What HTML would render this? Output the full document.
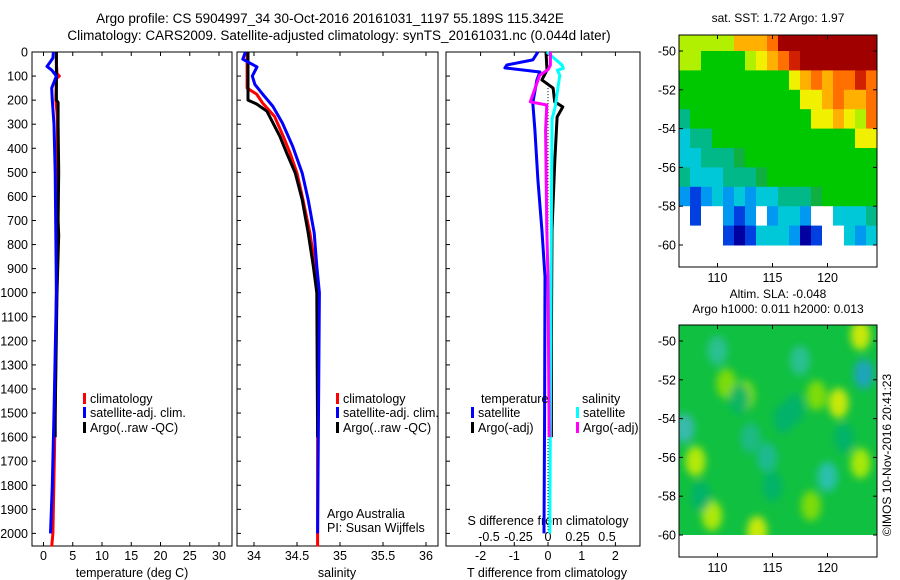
<!DOCTYPE html>
<html><head><meta charset="utf-8"><style>
html,body{margin:0;padding:0;background:#fff;}
svg{display:block;font-family:"Liberation Sans",sans-serif;}
</style></head><body>
<svg id="fig" width="900" height="580" viewBox="0 0 900 580" xmlns="http://www.w3.org/2000/svg">
<defs>
<filter id="blur4" x="-50%" y="-50%" width="200%" height="200%"><feGaussianBlur stdDeviation="4"/></filter>
<clipPath id="clipSLA"><rect x="679" y="325" width="198" height="210"/></clipPath>
</defs>
<text x="330" y="23" font-size="13.5" text-anchor="middle">Argo profile: CS 5904997_34 30-Oct-2016 20161031_1197 55.189S 115.342E</text>
<text x="339" y="40" font-size="13.5" text-anchor="middle">Climatology: CARS2009. Satellite-adjusted climatology: synTS_20161031.nc (0.044d later)</text>
<g id="g"></g>
<text transform="translate(891,455) rotate(-90)" font-size="12" text-anchor="middle">©IMOS 10-Nov-2016 20:41:23</text>
</svg>
<script>
// ---------- data ----------
const depthTicks = [0,100,200,300,400,500,600,700,800,900,1000,1100,1200,1300,1400,1500,1600,1700,1800,1900,2000];
const tempTicks = [0,5,10,15,20,25,30];
const salTicks = [34,34.5,35,35.5,36];
const tdiffTicks = [-2,-1,0,1,2];
const sdiffTicks = [-0.5,-0.25,0,0.25,0.5];

const climTempDepth = [0,50,90,100,110,200,250,300,500,1000,1500,2000,2055];
const climTemp      = [2.2,2.2,2.3,2.7,2.2,2.1,2.3,2.4,2.3,2.2,2.0,1.6,1.4];
const satTempDepth  = [0,25,40,60,75,100,150,200,300,500,1000,1500,1800,2000];
const satTemp       = [1.7,1.6,1.2,0.6,1.4,2.2,1.4,1.5,1.8,2.0,2.2,1.8,1.5,1.2];
const argoTempDepth = [0,100,200,210,300,500,700,760,1000,1500,1600];
const argoTemp      = [2.2,2.2,2.2,2.5,2.5,2.6,2.5,2.6,2.3,2.0,2.0];

const climSalDepth = [0,150,157,175,212,268,350,420,503,614,752,890,1000,1500,2055];
const climSal      = [33.92,33.92,33.95,34.03,34.10,34.24,34.34,34.42,34.50,34.57,34.65,34.71,34.74,34.74,34.74];
const satSalDepth  = [0,30,62,100,135,175,226,295,392,503,614,752,890,1000,1500,2000];
const satSal       = [33.9,33.87,34.035,33.98,34.01,34.10,34.22,34.33,34.45,34.56,34.63,34.70,34.73,34.76,34.75,34.74];
const argoSalDepth = [0,200,216,246,350,420,503,614,752,890,1000,1600];
const argoSal      = [33.93,33.93,34.03,34.15,34.30,34.38,34.48,34.56,34.63,34.69,34.73,34.74];

const tSatDiffDepth = [0,33,54,66,83,116,212,324,531,739,933,1500,2000];
const tSatDiff      = [-0.3,-0.45,-1.22,-1.28,-0.24,-0.33,-0.45,-0.39,-0.30,-0.18,-0.09,-0.1,-0.12];
const tArgoDiffDepth = [0,75,116,150,207,228,270,461,739,1200,1600];
const tArgoDiff      = [-0.06,-0.03,-0.18,0.15,0.2,0.44,0.27,0.2,0.12,0.1,0.1];
const sSatDiffDepth = [0,55,68,75,97,130,230,277,600,1000,1500,2000];
const sSatDiff      = [-0.01,0.12,0.13,0.08,0.10,0.09,0.06,0.035,0.03,0.025,0.02,0.015];
const sArgoDiffDepth = [0,55,73,97,207,220,324,739,933,1600];
const sArgoDiff      = [0.02,0.02,0.0,-0.07,-0.15,-0.01,-0.02,-0.01,0.0,0.01];

// ---------- scales ----------
const TOP=52, BOT=546;
function yD(d){ return TOP + d*0.2407; }
function xT(t){ return 43.5 + t*5.85; }
function xS(s){ return 254 + (s-34)*86; }
function xTD(t){ return 548 + t*33.7; }
function xSD(s){ return 548 + s*118; }

const g = document.getElementById('g');
const NS='http://www.w3.org/2000/svg';
function mk(tag, attrs, parent){
  const e=document.createElementNS(NS,tag);
  for(const k in attrs) e.setAttribute(k,attrs[k]);
  (parent||g).appendChild(e); return e;
}
function txt(x,y,s,anchor,size,parent){
  const e=mk('text',{x:x,y:y,'font-size':size||12.5,'text-anchor':anchor||'start'},parent);
  e.textContent=s; return e;
}

// panels
const panels=[[32,232,'temperature-panel'],[237,438,'salinity-panel'],[446,640,'difference-panel']];
panels.forEach(p=>{
  const r=mk('rect',{x:p[0],y:TOP,width:p[1]-p[0],height:BOT-TOP,fill:'none',stroke:'#000','stroke-width':1});
  
  
});
depthTicks.forEach(d=>{
  const y=yD(d);
  mk('line',{x1:32,x2:36,y1:y,y2:y,stroke:'#000'});
  mk('line',{x1:237,x2:241,y1:y,y2:y,stroke:'#000'});
  mk('line',{x1:446,x2:450,y1:y,y2:y,stroke:'#000'});
  const t=txt(28,y+4.5,String(d),'end',12.5);
  
  
});
function xticks(vals,fx,labels,yLab){
  vals.forEach((v,i)=>{
    const x=fx(v);
    mk('line',{x1:x,x2:x,y1:TOP,y2:TOP+4,stroke:'#000'});
    mk('line',{x1:x,x2:x,y1:BOT,y2:BOT-4,stroke:'#000'});
    const t=txt(x,yLab,labels[i],'middle',12.5);
    
    
  });
}
xticks(tempTicks,xT,tempTicks.map(String),560);
xticks(salTicks,xS,salTicks.map(String),560);
xticks(tdiffTicks,xTD,tdiffTicks.map(String),560);
sdiffTicks.forEach(v=>{
  const t=txt(xSD(v),541,String(v),'middle',12.5);
  
  
});
[['temperature (deg C)',132,'x-axis-title-temperature'],['salinity',337,'x-axis-title-salinity'],['T difference from climatology',547,'x-axis-title-tdiff']].forEach(a=>{
  const t=txt(a[1],577,a[0],'middle',12.5);
  
  
});
{const t=txt(548,525,'S difference from climatology','middle',12.5);

}

function line(depths,vals,fx,color,name,w,dash){
  const pts=depths.map((d,i)=>fx(vals[i]).toFixed(1)+','+yD(d).toFixed(1)).join(' ');
  const e=mk('polyline',{points:pts,fill:'none',stroke:color,'stroke-width':w||3,'stroke-linejoin':'round'});
  if(dash) e.setAttribute('stroke-dasharray',dash);
  
  
}
line(climTempDepth,climTemp,xT,'#f00','climatology-temperature-line');
line(argoTempDepth,argoTemp,xT,'#000','argo-temperature-line');
line(satTempDepth,satTemp,xT,'#00f','satellite-temperature-line');
line(climSalDepth,climSal,xS,'#f00','climatology-salinity-line');
line(argoSalDepth,argoSal,xS,'#000','argo-salinity-line');
line(satSalDepth,satSal,xS,'#00f','satellite-salinity-line');
{const e=mk('line',{x1:xTD(0),x2:xTD(0),y1:yD(150),y2:yD(2000),stroke:'#000','stroke-width':1,'stroke-dasharray':'1,2'});

}
line(tSatDiffDepth,tSatDiff,xTD,'#00f','t-satellite-diff-line');
line(tArgoDiffDepth,tArgoDiff,xTD,'#000','t-argo-diff-line');
line(sSatDiffDepth,sSatDiff,xSD,'#0ff','s-satellite-diff-line');
line(sArgoDiffDepth,sArgoDiff,xSD,'#f0f','s-argo-diff-line');

function legend(x,y,color,label,name){
  const r=mk('rect',{x:x,y:y-10,width:3,height:11,fill:color});
  
  
  const t=txt(x+7,y,label,'start',12.5);
  
  
}
legend(83,403,'#f00','climatology','legend-climatology-temp');
legend(83,417,'#00f','satellite-adj. clim.','legend-satellite-temp');
legend(83,432,'#000','Argo(..raw -QC)','legend-argo-temp');
legend(336,403,'#f00','climatology','legend-climatology-sal');
legend(336,417,'#00f','satellite-adj. clim.','legend-satellite-sal');
legend(336,432,'#000','Argo(..raw -QC)','legend-argo-sal');
{const t=txt(481,403,'temperature','start',12.5);}
{const t=txt(582,403,'salinity','start',12.5);}
legend(471,417,'#00f','satellite','legend-t-satellite');
legend(471,432,'#000','Argo(-adj)','legend-t-argo');
legend(576,417,'#0ff','satellite','legend-s-satellite');
legend(576,432,'#f0f','Argo(-adj)','legend-s-argo');
{const t=txt(327,518,'Argo Australia','start',12.5);}
{const t=txt(327,532,'PI: Susan Wijffels','start',12.5);}

// ---------- maps ----------
const lonTicks=[110,115,120];
const latTicks=[-50,-52,-54,-56,-58,-60];
const MX0=679, MX1=877;
function xLon(l){ return MX0 + (l-106.5)*11.0; }
function yLat(l,top){ return top+16 + (-50-l)*19.4; }
const pal={R:'#a00000',r:'#d02000',O:'#ff7000',o:'#ffb000',Y:'#f0f000',y:'#b0f000',G:'#00c800',g:'#10b040',T:'#00b888',C:'#00c8d8',c:'#0098f0',B:'#0040e0',D:'#0000a0',W:'#ffffff'};
const sstRows=[
 "yyyyyoooORRRRRRRRR",
 "yyGGGGyYoOrRRRRRRR",
 "GGGGGGGGGGYoOoOOrO",
 "GGGGGGGGGGGYYoOooO",
 "TGGGGGGGGGGGYYoYyO",
 "CTTGGGGGGGGGGGGGYY",
 "CCTTTgGGGGGGGGGGGG",
 "TCCCTTTgGGGGGGGGGG",
 "cBcCcCcCCTTTgGGGGG",
 "WBWWcBcWcCCcWWCCCT",
 "WWWWBDBCCCcDBWWCcC"];
function drawMap(top,name,title1,title2){
  if(title2){
    const t1=txt(778,top-27,title1,'middle',12);
    const t2=txt(778,top-12,title2,'middle',12);
  } else {
    const t1=txt(778,top-13,title1,'middle',12);
  }
}
const sTop=35;
drawMap(sTop,'sst-map','sat. SST: 1.72 Argo: 1.97');
sstRows.forEach((row,i)=>{
  const y0=i===0?sTop:yLat(-50-(i-1),sTop), y1=yLat(-50-i,sTop);
  for(let j=0;j<row.length;j++){
    const x0=MX0+j*11, w=(j===row.length-1)?MX1-x0:11;
    const r=mk('rect',{x:x0,y:y0,width:w+0.5,height:y1-y0+0.5,fill:pal[row[j]]});
    
    
  }
});
const aTop=325;
drawMap(aTop,'sla-map','Altim. SLA: -0.048','Argo h1000: 0.011 h2000: 0.013');
{const b=mk('rect',{x:MX0,y:aTop,width:MX1-MX0,height:yLat(-60,aTop)-aTop,fill:'#10c040'});
}
const slaLon=[121,123,113.6,109.5,108,123,110.8,112.5,119,123.3,117.5,114.5,120,107,112,116,118.5,110,115,108.5,121.5,117,113];
const slaLat=[-53.2,-49.7,-59.8,-59,-56.2,-56.3,-52.2,-52.8,-52.8,-51.7,-51,-56,-57,-54.5,-53,-54,-58.5,-50.5,-57.5,-58,-55,-53.5,-55];
const slaCol=['#e8f000','#e8f000','#e8f000','#c8f000','#d0f000','#c0f000','#90e000','#90e000','#90e000','#20a0d0','#30c0a0','#20b8a0','#30c0c0','#40b8c0','#00b070','#00b070','#90e000','#30c0a0','#00b070','#00b070','#00b070','#00b070','#20b890'];
const gs=mk('g',{'clip-path':'url(#clipSLA)',filter:'url(#blur4)'});

slaLon.forEach((l,i)=>{
  const e=mk('ellipse',{cx:xLon(l),cy:yLat(slaLat[i],aTop),rx:10,ry:15,fill:slaCol[i],'fill-opacity':0.85},gs);
  
  
});
[sTop,aTop].forEach((top,k)=>{
  const bot=top+232;
  const b=mk('rect',{x:MX0,y:top,width:MX1-MX0,height:bot-top,fill:'none',stroke:'#000'});
  
  
  latTicks.forEach(l=>{
    const y=yLat(l,top);
    mk('line',{x1:MX0,x2:MX0+4,y1:y,y2:y,stroke:'#000'});
    mk('line',{x1:MX1,x2:MX1-4,y1:y,y2:y,stroke:'#000'});
    const t=txt(676,y+4.5,String(l),'end',12.5);
    
    
  });
  lonTicks.forEach(l=>{
    const x=xLon(l);
    mk('line',{x1:x,x2:x,y1:top,y2:top+4,stroke:'#000'});
    mk('line',{x1:x,x2:x,y1:bot,y2:bot-4,stroke:'#000'});
    const t=txt(x,bot+15,String(l),'middle',12.5);
    
    
  });
});
</script>
</body></html>
